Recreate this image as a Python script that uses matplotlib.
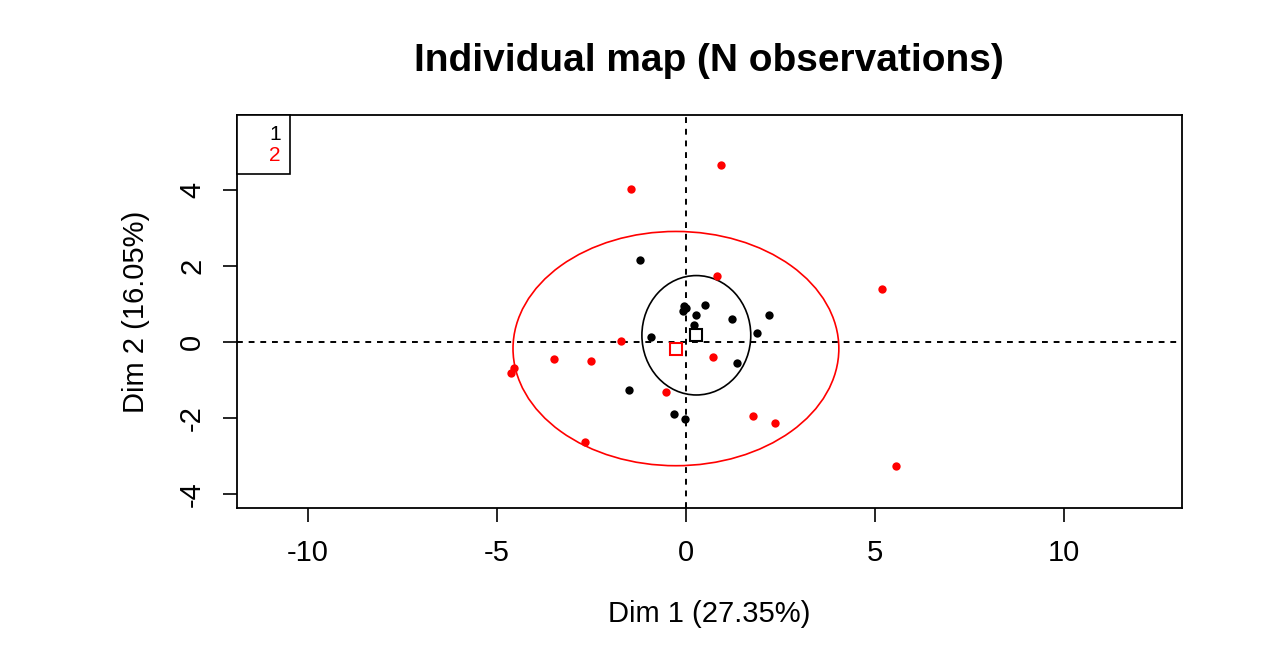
import matplotlib.pyplot as plt
from matplotlib.patches import Ellipse
from matplotlib.lines import Line2D

plt.rcParams['font.family'] = ['Liberation Sans', 'DejaVu Sans']
plt.rcParams['axes.unicode_minus'] = False

# group 1 (black) individuals
g1_x = [-1.21, -0.06, 0.00, -0.09, 0.50, 0.27, 1.21, 2.19, 0.21, 1.87, -0.94, 1.34, -1.50, -0.31, -0.03]
g1_y = [2.14, 0.93, 0.89, 0.80, 0.97, 0.71, 0.60, 0.71, 0.43, 0.23, 0.12, -0.56, -1.26, -1.89, -2.04]
# group 2 (red) individuals
g2_x = [0.93, -1.46, 5.17, 0.81, -1.72, -3.49, -2.52, -4.55, -4.62, 0.71, -0.53, 1.77, 2.34, -2.68, 5.55]
g2_y = [4.66, 4.02, 1.39, 1.74, 0.03, -0.46, -0.51, -0.70, -0.82, -0.40, -1.31, -1.94, -2.14, -2.64, -3.26]

# group centres and confidence ellipses (width, height)
g1_centre = (0.27, 0.17)
g2_centre = (-0.27, -0.18)
g1_ell = (2.88, 3.14)
g2_ell = (8.62, 6.16)

groups = ['1', '2']
colors = ['black', 'red']

fig = plt.figure(figsize=(12.85, 6.52), dpi=100)
ax = fig.add_axes([0.1842, 0.2204, 0.7354, 0.6025])

ax.axhline(0, color='black', lw=1.4, ls=(0, (3, 3)), zorder=1)
ax.axvline(0, color='black', lw=1.4, ls=(0, (3, 3)), zorder=1)

ax.add_patch(Ellipse(g1_centre, g1_ell[0], g1_ell[1], fill=False, ec='black', lw=1.2))
ax.add_patch(Ellipse(g2_centre, g2_ell[0], g2_ell[1], fill=False, ec='red', lw=1.2))

ax.plot(g1_x, g1_y, 'o', color='black', ms=6, mew=0)
ax.plot(g2_x, g2_y, 'o', color='red', ms=6, mew=0)
ax.plot(*g1_centre, 's', mfc='none', mec='black', ms=8, mew=1.5)
ax.plot(*g2_centre, 's', mfc='none', mec='red', ms=8, mew=1.5)

ax.set_xlim(-11.89, 13.11)
ax.set_ylim(-4.38, 5.95)
ax.set_xticks([-10, -5, 0, 5, 10])
ax.set_yticks([-4, -2, 0, 2, 4])
ax.tick_params(labelsize=21, length=10, width=1.2, pad=12)
for lab in ax.get_yticklabels():
    lab.set_rotation(90)
    lab.set_va('center')
for s in ax.spines.values():
    s.set_linewidth(1.3)

ax.set_xlabel('Dim 1 (27.35%)', fontsize=21, labelpad=24)
ax.set_ylabel('Dim 2 (16.05%)', fontsize=21, labelpad=20)
ax.set_title('Individual map (N observations)', fontsize=28, fontweight='bold', pad=32)

handles = [Line2D([], [], linestyle='none') for g in groups]
leg = ax.legend(handles, groups, loc='upper left', borderaxespad=0, fancybox=False,
                edgecolor='black', framealpha=1, fontsize=15, handlelength=0.7,
                handletextpad=0.4, borderpad=0.45, labelspacing=0.1)
leg.get_frame().set_linewidth(1.2)
for t, c in zip(leg.get_texts(), colors):
    t.set_color(c)

fig.savefig('out.png', dpi=100, facecolor='white')
